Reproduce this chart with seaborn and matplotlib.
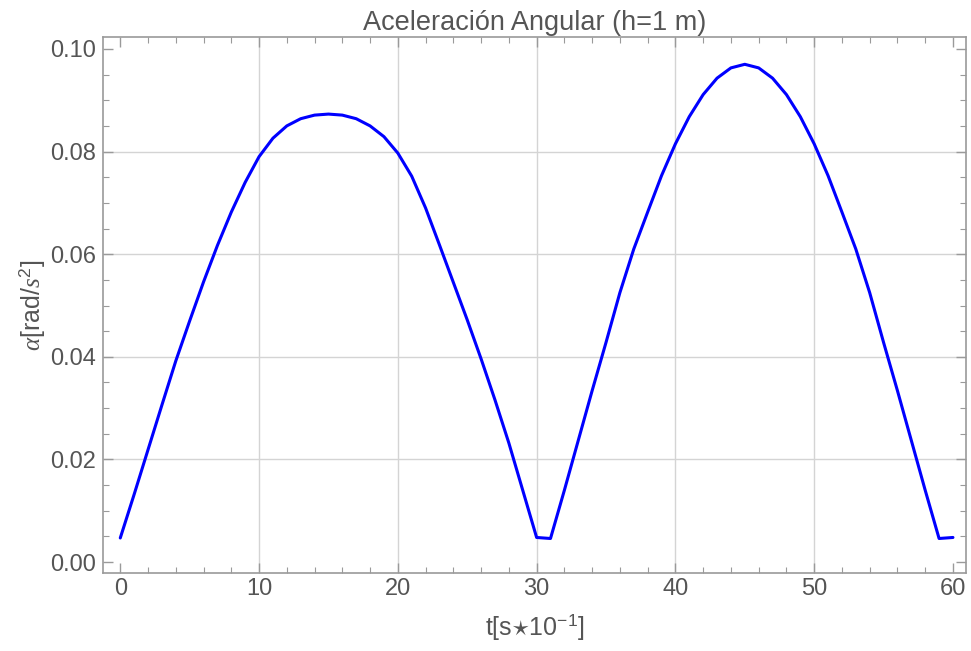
import matplotlib
matplotlib.use("Agg")
import matplotlib.pyplot as plt
import seaborn as sns
import pandas as pd
from matplotlib.ticker import MultipleLocator

# time steps (t in s*10^-1)
t = list(range(0, 61))

# angular acceleration
alpha_first = [0.0047, 0.0132, 0.0219, 0.0306, 0.0392, 0.0470, 0.0546, 0.0617,
               0.0682, 0.0740, 0.0790, 0.0826, 0.0850, 0.0864, 0.0871, 0.0873,
               0.0871, 0.0864, 0.0850, 0.0829, 0.0797, 0.0752, 0.0690, 0.0618,
               0.0545, 0.0472, 0.0396, 0.0316, 0.0232, 0.0140, 0.0048]
alpha_second = [0.0046, 0.0140, 0.0237, 0.0334, 0.0428, 0.0525, 0.0610,
                0.0682, 0.0753, 0.0815, 0.0868, 0.0911, 0.0943, 0.0963, 0.0970,
                0.0963, 0.0943, 0.0911, 0.0868, 0.0815, 0.0753, 0.0682, 0.0610,
                0.0525, 0.0428, 0.0334, 0.0237, 0.0140, 0.0046, 0.0048]

x_ticks = [0, 10, 20, 30, 40, 50, 60]
y_ticks = [0.00, 0.02, 0.04, 0.06, 0.08, 0.10]

df = pd.DataFrame({"t": t, "alpha": alpha_first + alpha_second})

sns.set_theme(style="white")
plt.rcParams["font.family"] = ["Liberation Sans", "DejaVu Sans"]
plt.rcParams["mathtext.fontset"] = "custom"
plt.rcParams["mathtext.rm"] = "Liberation Sans"
plt.rcParams["mathtext.it"] = "Liberation Serif:italic"

text_col = "#555555"
frame_col = "#9a9a9a"

fig = plt.figure(figsize=(9.71, 6.51), dpi=100)
ax = fig.add_axes([0.106, 0.120, 0.889, 0.823])

sns.lineplot(data=df, x="t", y="alpha", color="#0000ff", linewidth=2.2, ax=ax)

ax.set_xlim(-1.25, 60.95)
ax.set_ylim(-0.0021, 0.1023)
ax.set_xticks(x_ticks)
ax.set_yticks(y_ticks)
ax.set_xticklabels([str(v) for v in x_ticks])
ax.set_yticklabels([f"{v:.2f}" for v in y_ticks])
ax.xaxis.set_minor_locator(MultipleLocator(2))
ax.yaxis.set_minor_locator(MultipleLocator(0.005))

ax.tick_params(which="both", direction="in", color=frame_col, labelcolor=text_col,
               labelsize=17, top=True, right=True, bottom=True, left=True)
ax.tick_params(which="major", length=7, width=1)
ax.tick_params(which="minor", length=4, width=0.8)
ax.tick_params(axis="x", which="both", labeltop=False, pad=4)
ax.tick_params(axis="y", which="both", labelright=False, pad=5)

for s in ax.spines.values():
    s.set_color(frame_col)
    s.set_linewidth(1.2)

ax.grid(True, which="major", color="#d4d4d4", linewidth=1)
xg = ax.xaxis.get_gridlines()
yg = ax.yaxis.get_gridlines()
xg[0].set_visible(False)
xg[-1].set_visible(False)
yg[0].set_visible(False)
yg[-1].set_visible(False)
ax.set_axisbelow(True)

ax.set_title("Aceleración Angular (h=1 m)", color=text_col, fontsize=19.5, pad=5)
ax.set_xlabel(r"t[s$\star$10$^{-1}$]", color=text_col, fontsize=18, labelpad=8)
ax.set_ylabel(r"$\mathit{\alpha}$[rad/$\mathit{s}^2$]", color=text_col, fontsize=18, labelpad=2)

fig.savefig("out.png", dpi=100)
